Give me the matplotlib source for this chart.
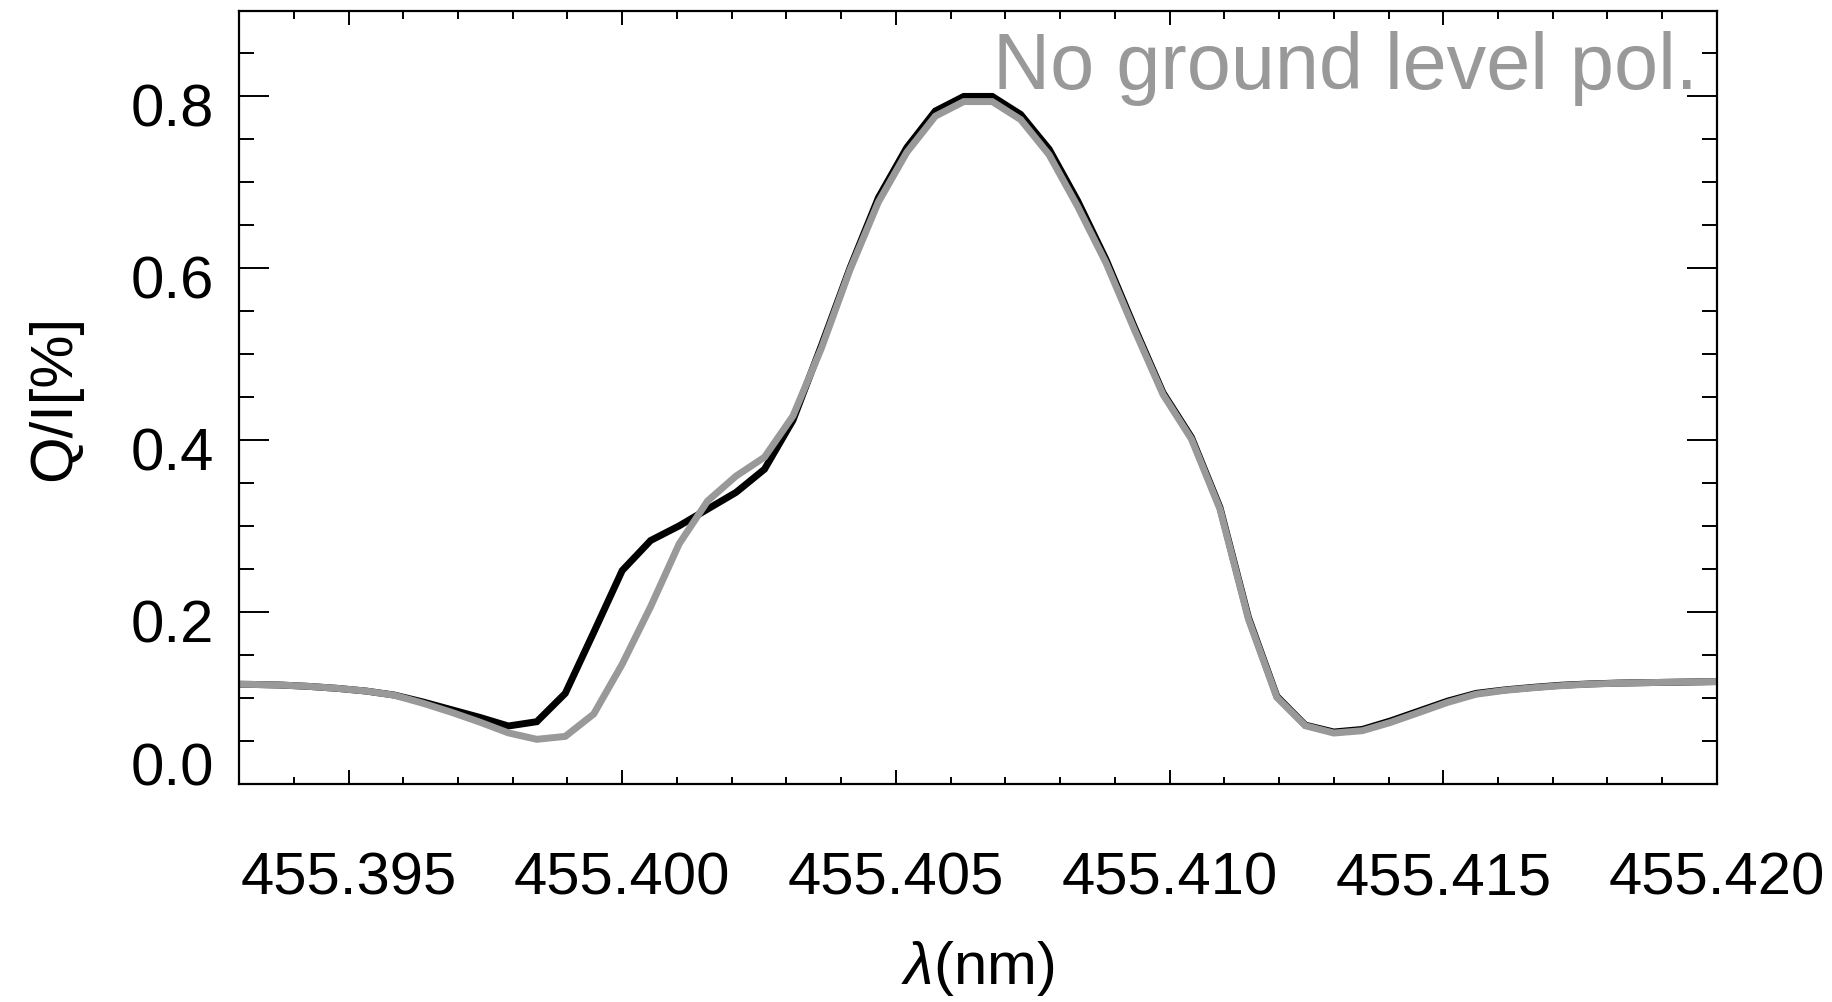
import matplotlib
matplotlib.use('Agg')
import matplotlib.pyplot as plt
import matplotlib.transforms as mtransforms

plt.rcParams['font.family'] = ['Liberation Sans', 'DejaVu Sans']
plt.rcParams['mathtext.fontset'] = 'custom'
plt.rcParams['mathtext.rm'] = 'Liberation Sans'
plt.rcParams['mathtext.it'] = 'Liberation Sans:italic'

# wavelength grid (nm)
wavelength = [
    455.39272, 455.39324, 455.39376, 455.39428, 455.39480, 455.39532,
    455.39584, 455.39636, 455.39688, 455.39740, 455.39792, 455.39844,
    455.39896, 455.39948, 455.40000, 455.40052, 455.40104, 455.40156,
    455.40208, 455.40260, 455.40312, 455.40364, 455.40416, 455.40468,
    455.40520, 455.40572, 455.40624, 455.40676, 455.40728, 455.40780,
    455.40832, 455.40884, 455.40936, 455.40988, 455.41040, 455.41092,
    455.41144, 455.41196, 455.41248, 455.41300, 455.41352, 455.41404,
    455.41456, 455.41508, 455.41560, 455.41612, 455.41664, 455.41716,
    455.41768, 455.41820, 455.41872, 455.41924, 455.41976, 455.42028,
]

# Q/I [%] with ground level polarization (black)
qi_full = [
    0.1158, 0.1154, 0.1147, 0.1131, 0.1108, 0.1077,
    0.1030, 0.0950, 0.0860, 0.0770, 0.0670, 0.0720,
    0.1050, 0.1760, 0.2480, 0.2830, 0.3000, 0.3195,
    0.3390, 0.3660, 0.4230, 0.5100, 0.6000, 0.6820,
    0.7405, 0.7830, 0.8000, 0.8000, 0.7790, 0.7385,
    0.6785, 0.6100, 0.5310, 0.4550, 0.4030, 0.3215,
    0.1935, 0.1015, 0.0680, 0.0600, 0.0630, 0.0730,
    0.0845, 0.0960, 0.1050, 0.1090, 0.1120, 0.1145,
    0.1160, 0.1170, 0.1175, 0.1180, 0.1185, 0.1190,
]

# Q/I [%] without ground level polarization (gray)
qi_nogl = [
    0.1158, 0.1154, 0.1147, 0.1131, 0.1108, 0.1077,
    0.1028, 0.0935, 0.0830, 0.0715, 0.0590, 0.0515,
    0.0549, 0.0810, 0.1390, 0.2060, 0.2790, 0.3290,
    0.3580, 0.3800, 0.4280, 0.5070, 0.5980, 0.6770,
    0.7350, 0.7770, 0.7940, 0.7940, 0.7730, 0.7320,
    0.6720, 0.6060, 0.5280, 0.4530, 0.4010, 0.3196,
    0.1915, 0.1003, 0.0673, 0.0588, 0.0615, 0.0712,
    0.0828, 0.0945, 0.1040, 0.1085, 0.1115, 0.1140,
    0.1158, 0.1168, 0.1175, 0.1180, 0.1185, 0.1190,
]

xticks = [455.395, 455.400, 455.405, 455.410, 455.415, 455.420]
xtick_labels = ['455.395', '455.400', '455.405', '455.410', '455.415', '455.420']
yticks = [0.0, 0.2, 0.4, 0.6, 0.8]
ytick_labels = ['0.0', '0.2', '0.4', '0.6', '0.8']

gray = '#999999'

fig = plt.figure(figsize=(18.33, 10.03), dpi=100)
ax = fig.add_axes([0.1304, 0.2178, 0.8063, 0.7707])

ax.plot(wavelength, qi_full, color='black', lw=5.0, solid_joinstyle='miter')
ax.plot(wavelength, qi_nogl, color=gray, lw=5.0, solid_joinstyle='miter')

ax.set_xlim(455.393, 455.420)
ax.set_ylim(0.0, 0.9)

ax.set_xticks(xticks)
ax.set_xticklabels(xtick_labels)
ax.set_xticks([455.393 + 0.001 * i for i in range(28)], minor=True)
ax.set_yticks(yticks)
ax.set_yticklabels(ytick_labels)
ax.set_yticks([0.05 * i for i in range(19)], minor=True)

for s in ax.spines.values():
    s.set_linewidth(1.6)

ax.tick_params(which='both', direction='in', top=True, right=True, width=1.4)
ax.tick_params(axis='x', which='major', length=10.4, pad=48, labelsize=43)
ax.tick_params(axis='x', which='minor', length=5.4)
ax.tick_params(axis='y', which='major', length=21.5, pad=18, labelsize=43)
ax.tick_params(axis='y', which='minor', length=10.8)

# IDL-style label placement: bottom label sits on the axis, others slightly low
ylab_shift = [0.21, -0.08, -0.08, -0.08, -0.08]
for lab, dy in zip(ax.get_yticklabels(), ylab_shift):
    lab.set_transform(lab.get_transform() +
                      mtransforms.ScaledTranslation(0, dy, fig.dpi_scale_trans))

ax.set_xlabel(r'$\lambda$(nm)', fontsize=43)
ax.xaxis.set_label_coords(0.5, -0.2)
ax.set_ylabel('Q/I[%]', fontsize=43)
ax.yaxis.set_label_coords(-0.106, 0.5)

ax.text(0.987, 0.8997, 'No ground level pol.', transform=ax.transAxes,
        ha='right', va='baseline', fontsize=57, color=gray)

plt.savefig('out.png', dpi=100)
